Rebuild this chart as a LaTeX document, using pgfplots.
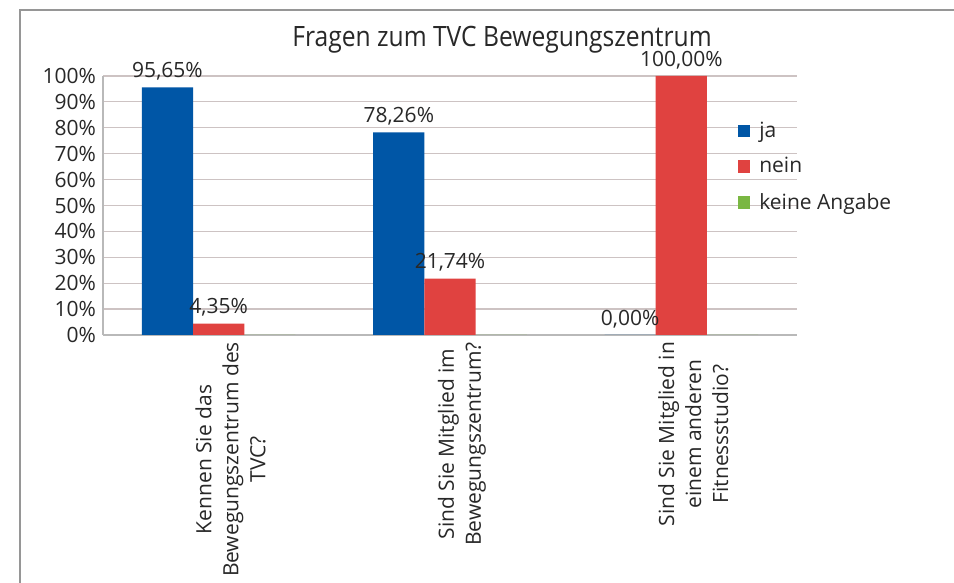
\documentclass[border=0pt]{standalone}
\usepackage{fontspec}
\setmainfont{Open Sans}
\newfontfamily\titlefont[FakeStretch=0.88]{Open Sans}
\usepackage{pgfplots}
\pgfplotsset{compat=1.18}
\definecolor{cblue}{RGB}{0,86,166}
\definecolor{cred}{RGB}{224,66,64}
\definecolor{cgreen}{RGB}{122,183,66}
\definecolor{cgrid}{RGB}{205,195,195}
\definecolor{caxis}{RGB}{185,185,185}
\definecolor{cframe}{RGB}{150,150,150}
\definecolor{ctext}{RGB}{40,40,40}
\begin{document}
\begin{tikzpicture}
\useasboundingbox (0,0) rectangle (477pt,291.5pt);
\fill[white] (0,0) rectangle (477pt,291.5pt);
\draw[cframe, line width=1pt] (9.75pt,0) -- (9.75pt,286.25pt) -- (477pt,286.25pt);
\node[anchor=base, font=\titlefont\fontsize{14}{16}\selectfont, text=ctext, inner sep=0] at (251pt,268pt) {Fragen zum TVC Bewegungszentrum};
\begin{axis}[
  at={(51.5pt,124pt)}, anchor=south west,
  scale only axis, width=347pt, height=129.5pt,
  xmin=-0.5, xmax=2.5, ymin=0, ymax=100,
  ybar=0pt, bar width=25.6pt,
  /pgf/number format/assume math mode=true,
  ytick={0,10,...,100},
  yticklabel={\pgfmathprintnumber{\tick}\%},
  xtick={0,1,2},
  xticklabels={{Kennen Sie das\\Bewegungszentrum des\\TVC?},{Sind Sie Mitglied im\\Bewegungszentrum?},{Sind Sie Mitglied in\\einem anderen\\Fitnessstudio?}},
  xticklabel style={rotate=90, anchor=east, align=center, font=\fontsize{10.5}{13.5}\selectfont, text=ctext, yshift=-6pt},
  yticklabel style={font=\fontsize{10.5}{12}\selectfont, text=ctext},
  major tick length=0pt,
  ymajorgrids, grid style={cgrid, line width=0.6pt},
  axis line style={caxis, line width=0.6pt},
  axis x line*=bottom, axis y line*=left,
  every node near coord/.append style={font=\fontsize{10.5}{12}\selectfont, text=ctext},
  legend style={draw=none, fill=none, at={(0.914,0.84)}, anchor=north west, font=\fontsize{10.5}{12}\selectfont, text=ctext, row sep=4.6pt, column sep=2.5pt, inner sep=0pt},
  legend cell align=left,
  legend image code/.code={\fill[#1] (0pt,-3.1pt) rectangle (6.3pt,3.1pt);},
]
\addplot[fill=cblue, draw=none, nodes near coords={\pgfmathprintnumber[fixed,fixed zerofill,precision=2,use comma]{\pgfplotspointmeta}\%}] coordinates {(0,95.65) (1,78.26) (2,0)};
\addplot[fill=cred, draw=none, nodes near coords={\pgfmathprintnumber[fixed,fixed zerofill,precision=2,use comma]{\pgfplotspointmeta}\%}] coordinates {(0,4.35) (1,21.74) (2,100)};
\addplot[fill=cgreen, draw=none] coordinates {(0,0) (1,0) (2,0)};
\legend{ja,nein,keine Angabe}
\end{axis}
\end{tikzpicture}
\end{document}
